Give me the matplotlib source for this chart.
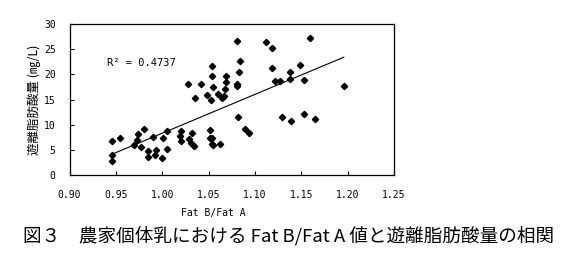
import matplotlib
matplotlib.use("Agg")
import matplotlib.pyplot as plt
from matplotlib.ticker import MultipleLocator

plt.rcParams['font.family'] = ['Noto Sans CJK JP', 'DejaVu Sans']

# Fat B/Fat A ratio vs free fatty acid (mg/L)
fat_ratio = [0.9455, 0.9455, 0.946, 0.9548, 0.9696, 0.973, 0.974, 0.977,
             0.9807, 0.985, 0.985, 0.990, 0.9919, 0.9937, 1.0001, 1.0012,
             1.005, 1.005, 1.020, 1.019, 1.020, 1.028, 1.029, 1.031, 1.0325,
             1.034, 1.035, 1.042, 1.0487, 1.052, 1.0516, 1.0537, 1.0534,
             1.0537, 1.053, 1.054, 1.055, 1.055, 1.0605, 1.0627, 1.0648,
             1.0663, 1.068, 1.069, 1.069, 1.0807, 1.0814, 1.0807, 1.0807,
             1.083, 1.084, 1.0897, 1.0933, 1.112, 1.1185, 1.1185, 1.1217,
             1.1274, 1.1296, 1.138, 1.138, 1.139, 1.149, 1.153, 1.153,
             1.1598, 1.165, 1.1958]
ffa = [6.76, 3.9, 2.7, 7.36, 6.0, 6.96, 8.15, 5.5,
       9.1, 4.7, 3.6, 7.55, 3.9, 4.9, 3.3, 7.3,
       8.8, 5.1, 8.8, 7.75, 6.76, 18.1, 7.16, 6.4, 8.3,
       5.77, 15.2, 18.1, 15.8, 8.95, 7.36, 7.36, 19.6,
       21.67, 15.0, 6.16, 6.0, 17.4, 16.0, 6.16, 15.3,
       15.6, 17.0, 18.4, 19.6, 26.6, 11.5, 18.1, 17.7,
       20.4, 22.66, 9.1, 8.3, 26.4, 25.2, 21.2, 18.6,
       18.6, 11.5, 20.4, 19.0, 10.7, 21.9, 18.8, 12.1,
       27.2, 11.1, 17.6]

# linear trendline ends
trend_x = [0.9455, 1.1958]
trend_y = [4.1, 23.4]
r2_label = 'R² = 0.4737'

MONO = ['DejaVu Sans Mono', 'Noto Sans CJK JP']

fig = plt.figure(figsize=(5.67, 2.60), dpi=100)
ax = fig.add_axes([0.1226, 0.3269, 0.5723, 0.5808])

ax.plot(fat_ratio, ffa, linestyle='none', marker='D', markersize=3.2,
        color='black')
ax.plot(trend_x, trend_y, color='black', linewidth=0.8)

ax.text(0.940, 22.3, r2_label, fontsize=7.5, va='center', ha='left',
        family=MONO)

ax.set_xlim(0.90, 1.25)
ax.set_ylim(0, 30)
ax.xaxis.set_major_locator(MultipleLocator(0.05))
ax.yaxis.set_major_locator(MultipleLocator(5))
ax.xaxis.set_major_formatter(lambda v, p: f'{v:.2f}')
ax.tick_params(direction='in', length=3, width=0.8, labelsize=7)
ax.tick_params(axis='x', pad=10.5)
ax.tick_params(axis='y', pad=10)
for lbl in ax.get_xticklabels() + ax.get_yticklabels():
    lbl.set_family(MONO)
for s in ax.spines.values():
    s.set_linewidth(0.9)

ax.set_xlabel('Fat B/Fat A', fontsize=7, family=MONO)
ax.xaxis.set_label_coords(0.442, -0.22)
ax.set_ylabel('遊離脂肪酸量 (㎎/L)', fontsize=9)
ax.yaxis.set_label_coords(-0.088, 0.5)

fig.text(0.04, 0.095, '図３　農家個体乳における Fat B/Fat A 値と遊離脂肪酸量の相関',
         fontsize=13.4, ha='left', va='center')

fig.savefig('out.png', dpi=100)
